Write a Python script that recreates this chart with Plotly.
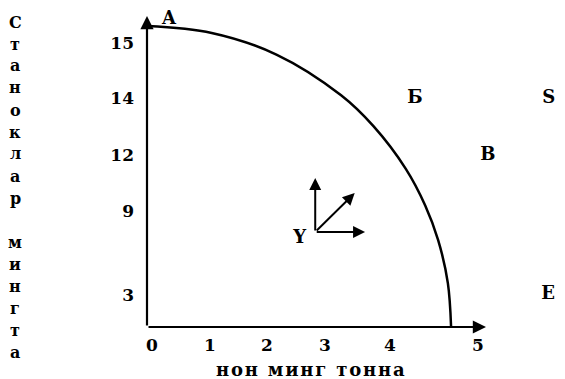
import plotly.graph_objects as go

# Production possibility frontier (data units)
frontier_x = [0, 1, 2, 3, 3.5, 4, 4.3, 4.5, 4.65, 4.7]
frontier_y = [15.3, 14.95, 13.85, 11.78, 10.21, 8.04, 6.18, 4.42, 2.23, 0]

# Point labels and where they sit
point_names = ["A", "Б", "S", "B", "E", "Y"]
point_x = [0.34, 4.14, 6.21, 5.27, 6.20, 2.36]
point_y = [15.62, 11.64, 11.64, 8.74, 1.63, 4.50]

# Tick labels (the drawing spaces them unevenly)
x_tick_text = ["0", "1", "2", "3", "4", "5"]
x_tick_pos = [0.077, 0.974, 1.855, 2.751, 3.756, 5.116]
y_tick_text = ["15", "14", "12", "9", "3"]
y_tick_pos = [14.44, 11.64, 8.74, 5.90, 1.63]

x_title = "нон минг тонна"
y_title_words = ["Станоклар", "минг та"]

# Axis arrow tips
x_axis_tip = 5.24
y_axis_tip = 15.81
# Y-point direction arrows (origin and tips)
y_origin = (2.60, 4.83)
y_arrow_tips = [(2.60, 7.57), (3.37, 4.83), (3.21, 6.81)]

FONT = "DejaVu Serif"
W, H = 557, 371          # page adds an 8px body margin
L, R, T, B = 139, 0, 0, 52
PW, PH = W - L - R, H - T - B
XS, YS = 64.7, 19.67     # pixels per data unit

fig = go.Figure()
fig.add_trace(go.Scatter(
    x=frontier_x, y=frontier_y, mode="lines",
    line=dict(color="black", width=2.5, shape="spline", smoothing=1.0),
    hoverinfo="skip", showlegend=False))
fig.add_trace(go.Scatter(
    x=point_x, y=point_y, mode="text", text=point_names,
    textfont=dict(family=FONT, size=18, color="black", weight="bold"),
    showlegend=False, cliponaxis=False))

ann = []
for tx, ty in [(x_axis_tip, 0), (0, y_axis_tip)]:
    ann.append(dict(x=tx, y=ty, ax=0, ay=0, xref="x", yref="y", axref="x", ayref="y",
                    text="", showarrow=True, arrowhead=2, arrowsize=1.2, arrowwidth=2.2,
                    arrowcolor="black"))
for tx, ty in y_arrow_tips:
    ann.append(dict(x=tx, y=ty, ax=y_origin[0], ay=y_origin[1], xref="x", yref="y",
                    axref="x", ayref="y", text="", showarrow=True, arrowhead=2,
                    arrowsize=1.2, arrowwidth=2, arrowcolor="black"))

# x-axis title (hair spaces widen the letter spacing)
ann.append(dict(x=(302 - L) / PW, y=(PH - (361 - T)) / PH, xref="paper", yref="paper",
                text="\u200a".join(x_title), showarrow=False, xanchor="center",
                yanchor="middle",
                font=dict(family=FONT, size=18, color="black", weight="bold")))
# y-axis title, letters stacked vertically: first word, blank row, second word
rows = list(y_title_words[0]) + [""] + [c for c in y_title_words[1] if c != " "]
for k, ch in enumerate(rows):
    if not ch:
        continue
    yc = 14 + 22 * k      # figure pixel row of line k
    ann.append(dict(x=(7 - L) / PW, y=(PH - (yc - T)) / PH, xref="paper", yref="paper",
                    text=ch, showarrow=False, xanchor="center", yanchor="middle",
                    font=dict(family=FONT, size=16, color="black", weight="bold")))

fig.update_layout(
    width=W, height=H, autosize=False,
    margin=dict(l=L, r=R, t=T, b=B),
    plot_bgcolor="white", paper_bgcolor="white",
    annotations=ann,
    xaxis=dict(range=[0, PW / XS], showgrid=False, zeroline=False, showline=False,
               tickmode="array", tickvals=x_tick_pos, ticktext=x_tick_text, ticks="",
               ticklabelstandoff=6, automargin=False,
               tickfont=dict(family=FONT, size=17, color="black", weight="bold")),
    yaxis=dict(range=[0, PH / YS], showgrid=False, zeroline=False, showline=False,
               tickmode="array", tickvals=y_tick_pos, ticktext=y_tick_text, ticks="",
               ticklabelstandoff=12, automargin=False,
               tickfont=dict(family=FONT, size=17, color="black", weight="bold")),
)

fig.write_html("out.html")
